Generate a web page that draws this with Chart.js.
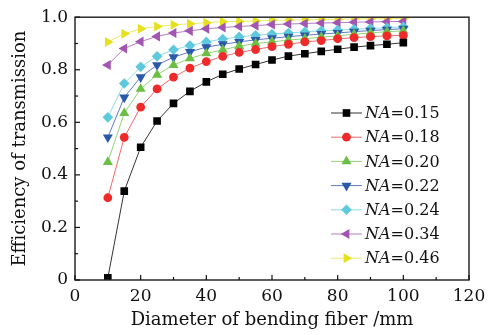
<!DOCTYPE html>
<html>
<head>
<meta charset="utf-8">
<script src="https://cdn.jsdelivr.net/npm/chart.js@4/dist/chart.umd.min.js"></script>
<style>
  html, body { margin: 0; padding: 0; background: #fff; }
  canvas { display: block; }
</style>
</head>
<body>
<canvas id="chart" width="503" height="335"></canvas>
<script>
// bending diameter (mm)
const diameters = [10, 15, 20, 25, 30, 35, 40, 45, 50, 55, 60, 65, 70, 75, 80, 85, 90, 95, 100];

const na015 = [0.008, 0.338, 0.505, 0.605, 0.672, 0.718, 0.754, 0.783, 0.803, 0.820, 0.837, 0.852, 0.861, 0.870, 0.878, 0.886, 0.892, 0.897, 0.903];
const na018 = [0.313, 0.543, 0.658, 0.727, 0.772, 0.806, 0.831, 0.851, 0.866, 0.877, 0.888, 0.897, 0.906, 0.911, 0.918, 0.922, 0.926, 0.929, 0.931];
const na020 = [0.449, 0.635, 0.727, 0.781, 0.818, 0.843, 0.862, 0.876, 0.890, 0.900, 0.906, 0.913, 0.918, 0.924, 0.929, 0.935, 0.940, 0.945, 0.948];
const na022 = [0.543, 0.695, 0.772, 0.818, 0.848, 0.868, 0.886, 0.897, 0.906, 0.914, 0.920, 0.926, 0.931, 0.936, 0.940, 0.945, 0.949, 0.953, 0.956];
const na024 = [0.619, 0.748, 0.811, 0.851, 0.876, 0.892, 0.906, 0.917, 0.925, 0.931, 0.936, 0.940, 0.944, 0.948, 0.951, 0.954, 0.957, 0.960, 0.963];
const na034 = [0.818, 0.881, 0.907, 0.927, 0.940, 0.948, 0.956, 0.961, 0.965, 0.968, 0.972, 0.974, 0.976, 0.978, 0.979, 0.981, 0.982, 0.983, 0.984];
const na046 = [0.906, 0.937, 0.956, 0.965, 0.971, 0.975, 0.979, 0.983, 0.984, 0.986, 0.988, 0.989, 0.990, 0.991, 0.992, 0.993, 0.994, 0.994, 0.995];

const naLabels = ['0.15', '0.18', '0.20', '0.22', '0.24', '0.34', '0.46'];
const xTicks = [0, 20, 40, 60, 80, 100, 120];
const yTicks = [0, 0.2, 0.4, 0.6, 0.8, 1.0];

const FONT = "'DejaVu Serif', 'Liberation Serif', serif";

const series = [
  { v: na015, mark: '#000000', line: '#333333', style: 'rect', r: 5.4, rot: 0 },
  { v: na018, mark: '#ee2a2a', line: '#f06a6a', style: 'circle', r: 4.4, rot: 0 },
  { v: na020, mark: '#6cbf45', line: '#94d276', style: 'triangle', r: 5.8, rot: 0 },
  { v: na022, mark: '#2a58aa', line: '#5d7cc4', style: 'triangle', r: 5.8, rot: 180 },
  { v: na024, mark: '#5ec8dc', line: '#8edbe8', style: 'rectRot', r: 5.3, rot: 0 },
  { v: na034, mark: '#a256b2', line: '#b67cc4', style: 'triangle', r: 5.8, rot: -90 },
  { v: na046, mark: '#e6e01e', line: '#eeea6a', style: 'triangle', r: 5.8, rot: 90 }
];

const datasets = series.map((s, i) => ({
  label: 'NA=' + naLabels[i],
  data: diameters.map((d, j) => ({ x: d, y: s.v[j] })),
  borderColor: s.line,
  borderWidth: 1,
  backgroundColor: s.mark,
  pointBackgroundColor: s.mark,
  pointBorderColor: s.mark,
  pointBorderWidth: 0,
  pointStyle: s.style,
  pointRadius: s.r,
  pointRotation: s.rot,
  tension: 0
}));

// frame, inward ticks (major + minor) and the legend
const decor = {
  id: 'decor',
  afterDraw(chart) {
    const ctx = chart.ctx;
    const a = chart.chartArea;
    const xs = chart.scales.x, ys = chart.scales.y;
    ctx.save();
    ctx.strokeStyle = '#2a2a2a';
    ctx.lineWidth = 1.5;
    ctx.strokeRect(a.left, a.top, a.right - a.left, a.bottom - a.top);

    ctx.lineWidth = 1.2;
    ctx.strokeStyle = '#111';
    for (let v = 0; v <= 120; v += 10) {
      const px = xs.getPixelForValue(v);
      const len = v % 20 === 0 ? 5 : 3;
      ctx.beginPath();
      ctx.moveTo(px, a.bottom);
      ctx.lineTo(px, a.bottom - len);
      ctx.stroke();
    }
    for (let k = 0; k <= 10; k++) {
      const py = ys.getPixelForValue(k / 10);
      const len = k % 2 === 0 ? 5 : 3;
      ctx.beginPath();
      ctx.moveTo(a.left, py);
      ctx.lineTo(a.left + len, py);
      ctx.stroke();
    }

    // legend
    const x0 = 331, y0 = 113, step = 24.2;
    chart.data.datasets.forEach((ds, i) => {
      const y = y0 + i * step;
      ctx.strokeStyle = ds.borderColor;
      ctx.lineWidth = 1;
      ctx.beginPath();
      ctx.moveTo(x0, y);
      ctx.lineTo(x0 + 31, y);
      ctx.stroke();
      ctx.fillStyle = ds.pointBackgroundColor;
      ctx.strokeStyle = ds.pointBackgroundColor;
      Chart.helpers.drawPoint(ctx, {
        pointStyle: ds.pointStyle, radius: ds.pointRadius,
        rotation: ds.pointRotation, borderWidth: 0
      }, x0 + 15.5, y);
      ctx.fillStyle = '#111';
      ctx.textBaseline = 'middle';
      ctx.textAlign = 'left';
      ctx.font = 'italic 16px ' + FONT;
      ctx.fillText('NA', x0 + 34, y + 1);
      const w = ctx.measureText('NA').width;
      ctx.font = '16px ' + FONT;
      ctx.fillText('=' + naLabels[i], x0 + 34 + w, y + 1);
    });
    ctx.restore();
  }
};

new Chart(document.getElementById('chart'), {
  type: 'line',
  data: { datasets: datasets },
  options: {
    responsive: false,
    animation: false,
    layout: { padding: { top: 13, right: 34, left: 0, bottom: 0 } },
    plugins: { legend: { display: false }, tooltip: { enabled: false } },
    scales: {
      x: {
        type: 'linear', min: 0, max: 120,
        afterFit: s => { s.height = 55; },
        afterBuildTicks: s => { s.ticks = xTicks.map(v => ({ value: v })); },
        grid: { display: false, drawTicks: false },
        border: { display: false },
        ticks: { color: '#111', padding: 6, maxRotation: 0, font: { family: FONT, size: 17 } },
        title: { display: true, text: 'Diameter of bending fiber /mm', color: '#111',
                 padding: { top: 0, bottom: 4 }, font: { family: FONT, size: 18 } }
      },
      y: {
        min: 0, max: 1,
        afterFit: s => { s.width = 75; },
        afterBuildTicks: s => { s.ticks = yTicks.map(v => ({ value: v })); },
        grid: { display: false, drawTicks: false },
        border: { display: false },
        ticks: { color: '#111', padding: 7, font: { family: FONT, size: 17 },
                 callback: v => v === 0 ? '0' : v.toFixed(1) },
        title: { display: true, text: 'Efficiency of transmission', color: '#111',
                 padding: { top: 10, bottom: 0 }, font: { family: FONT, size: 18 } }
      }
    }
  },
  plugins: [decor]
});
</script>
</body>
</html>
